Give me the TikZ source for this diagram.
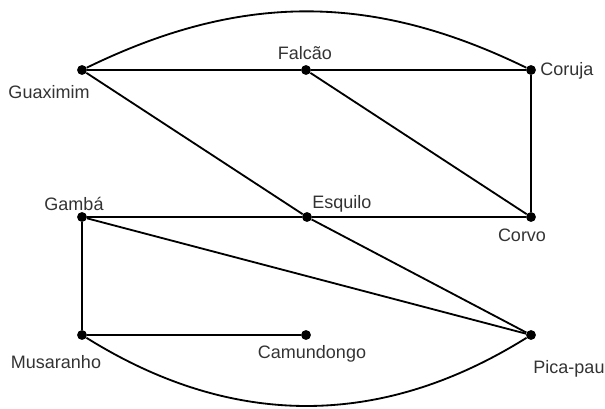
\documentclass[tikz,border=0pt]{standalone}
\usepackage{fontspec}
\setmainfont{Liberation Sans}
\usetikzlibrary{positioning}

\tikzset{
  vtx/.style={circle, fill=black, inner sep=0pt, minimum size=7pt},
  lbl/.style={anchor=base, inner sep=0pt, text=black!80, font=\fontsize{12.8}{15}\selectfont},
  edge/.style={line width=1.3pt}
}

\begin{document}
\begin{tikzpicture}[x=0.025cm, y=-0.025cm]
    \useasboundingbox (0,0) rectangle (605,408);

    % Vertici
    \node[vtx] (guax) at (82,70) {};
    \node[vtx] (falc) at (306,70) {};
    \node[vtx] (coru) at (531,70) {};
    \node[vtx] (gamb) at (82,217) {};
    \node[vtx] (esqu) at (307,217) {};
    \node[vtx] (corv) at (531,217) {};
    \node[vtx] (musa) at (82,335) {};
    \node[vtx] (camu) at (306,335) {};
    \node[vtx] (pica) at (531,335) {};

    % Etichette
    \node[lbl] (lguax) at (49,98) {Guaximim};
    \node[lbl] (lfalc) at (305,59) {Falcão};
    \node[lbl, anchor=base west] (lcoru) at (540,75) {Coruja};
    \node[lbl] (lgamb) at (74,210) {Gambá};
    \node[lbl, anchor=base west] (lesqu) at (312,208) {Esquilo};
    \node[lbl] (lcorv) at (522,241) {Corvo};
    \node[lbl] (lmusa) at (56,368) {Musaranho};
    \node[lbl] (lcamu) at (312,358) {Camundongo};
    \node[lbl] (lpica) at (569,373) {Pica-pau};

    % Archi
    \draw[edge] (guax) -- (falc) -- (coru);
    \draw[edge] (guax) to[bend left=26] (coru);
    \draw[edge] (guax) -- (esqu) -- (pica);
    \draw[edge] (falc) -- (corv);
    \draw[edge] (coru) -- (corv);
    \draw[edge] (gamb) -- (esqu) -- (corv);
    \draw[edge] (gamb) -- (pica);
    \draw[edge] (gamb) -- (musa);
    \draw[edge] (musa) -- (camu);
    \draw[edge] (musa) to[bend right=32] (pica);
\end{tikzpicture}
\end{document}
